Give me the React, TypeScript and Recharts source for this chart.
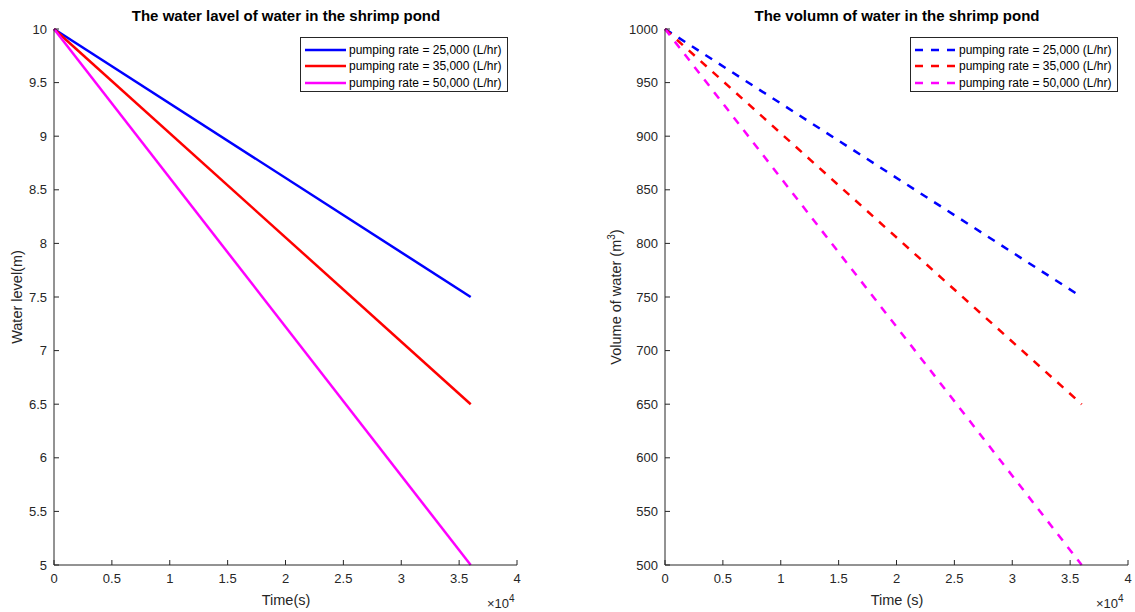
import React from "react";
import { LineChart, Line, XAxis, YAxis } from "recharts";

// time in seconds (10 hours of pumping)
const time = [0, 36000];

// water level (m)
const level25 = [10, 7.5];
const level35 = [10, 6.5];
const level50 = [10, 5];

// volume of water (m^3)
const vol25 = [1000, 750];
const vol35 = [1000, 650];
const vol50 = [1000, 500];

const xTicks = [0, 5000, 10000, 15000, 20000, 25000, 30000, 35000, 40000];
const levelTicks = [5, 5.5, 6, 6.5, 7, 7.5, 8, 8.5, 9, 9.5, 10];
const volTicks = [500, 550, 600, 650, 700, 750, 800, 850, 900, 950, 1000];

const seriesLabels = [
  "pumping rate = 25,000 (L/hr)",
  "pumping rate = 35,000 (L/hr)",
  "pumping rate = 50,000 (L/hr)",
];
const COLORS = ["#0000ff", "#ff0000", "#ff00ff"];

const levelData = time.map((t, i) => ({
  t,
  a: level25[i],
  b: level35[i],
  c: level50[i],
}));
const volData = time.map((t, i) => ({
  t,
  a: vol25[i],
  b: vol35[i],
  c: vol50[i],
}));

const AXIS = "#262626";
const FONT = "'Liberation Sans', Arial, Helvetica, sans-serif";
const tickStyle = { fill: AXIS, fontSize: 13, fontFamily: FONT };

function LegendBox({ left, dashed }: { left: number; dashed?: boolean }) {
  return (
    <div
      style={{
        position: "absolute",
        left,
        top: 37,
        width: 208,
        height: 55,
        border: `1px solid ${AXIS}`,
        background: "white",
        fontFamily: FONT,
        fontSize: 12,
        color: "#000",
        boxSizing: "border-box",
      }}
    >
      {seriesLabels.map((label, i) => (
        <div
          key={label}
          style={{
            position: "absolute",
            left: 3,
            top: 3 + i * 16.7,
            height: 17,
            display: "flex",
            alignItems: "center",
            whiteSpace: "nowrap",
          }}
        >
          <svg width={42} height={10} style={{ marginRight: 3 }}>
            <line
              x1={1}
              y1={5}
              x2={42}
              y2={5}
              stroke={COLORS[i]}
              strokeWidth={2.5}
              strokeDasharray={dashed ? "8 8" : undefined}
            />
          </svg>
          {label}
        </div>
      ))}
    </div>
  );
}

export default function App() {
  const xFmt = (v: number) => `${v / 10000}`;
  return (
    <div
      style={{
        position: "absolute",
        left: 0,
        top: 0,
        width: 1135,
        height: 612,
        background: "white",
        overflow: "hidden",
      }}
    >
      <div style={{ position: "absolute", left: 0, top: 0 }}>
        <LineChart
          width={560}
          height={612}
          data={levelData}
          margin={{ top: 29, right: 43, bottom: 0, left: 0 }}
        >
          <XAxis
            dataKey="t"
            type="number"
            domain={[0, 40000]}
            ticks={xTicks}
            interval={0}
            tickFormatter={xFmt}
            height={47}
            stroke={AXIS}
            tickSize={-5}
            tickMargin={14}
            tick={tickStyle}
          />
          <YAxis
            type="number"
            domain={[5, 10]}
            ticks={levelTicks}
            interval={0}
            width={54}
            stroke={AXIS}
            tickSize={-5}
            tickMargin={12}
            tick={tickStyle}
          />
          {["a", "b", "c"].map((k, i) => (
            <Line
              key={k}
              dataKey={k}
              stroke={COLORS[i]}
              strokeWidth={2.5}
              dot={false}
              isAnimationActive={false}
            />
          ))}
        </LineChart>
      </div>

      <div style={{ position: "absolute", left: 580, top: 0 }}>
        <LineChart
          width={555}
          height={612}
          data={volData}
          margin={{ top: 29, right: 7, bottom: 0, left: 0 }}
        >
          <XAxis
            dataKey="t"
            type="number"
            domain={[0, 40000]}
            ticks={xTicks}
            interval={0}
            tickFormatter={xFmt}
            height={47}
            stroke={AXIS}
            tickSize={-5}
            tickMargin={14}
            tick={tickStyle}
          />
          <YAxis
            type="number"
            domain={[500, 1000]}
            ticks={volTicks}
            interval={0}
            width={85}
            stroke={AXIS}
            tickSize={-5}
            tickMargin={12}
            tick={tickStyle}
          />
          {["a", "b", "c"].map((k, i) => (
            <Line
              key={k}
              dataKey={k}
              stroke={COLORS[i]}
              strokeWidth={2.5}
              strokeDasharray="8 8"
              dot={false}
              isAnimationActive={false}
            />
          ))}
        </LineChart>
      </div>

      <svg
        width={1135}
        height={612}
        style={{ position: "absolute", left: 0, top: 0, pointerEvents: "none" }}
        fontFamily={FONT}
      >
        <text x={286} y={21} textAnchor="middle" fontSize={15} fontWeight="bold" fill="#000">
          The water lavel of water in the shrimp pond
        </text>
        <text x={897} y={21} textAnchor="middle" fontSize={15} fontWeight="bold" fill="#000">
          The volumn of water in the shrimp pond
        </text>
        <text x={286} y={605} textAnchor="middle" fontSize={14.5} fill={AXIS}>
          Time(s)
        </text>
        <text x={897} y={605} textAnchor="middle" fontSize={14.5} fill={AXIS}>
          Time (s)
        </text>
        <text x={487} y={608} fontSize={13} fill={AXIS}>
          ×10<tspan dy={-6} fontSize={10}>4</tspan>
        </text>
        <text x={1096} y={608} fontSize={13} fill={AXIS}>
          ×10<tspan dy={-6} fontSize={10}>4</tspan>
        </text>
        <text
          transform="translate(22,297) rotate(-90)"
          textAnchor="middle"
          fontSize={14.5}
          fill={AXIS}
        >
          Water level(m)
        </text>
        <text
          transform="translate(621,297) rotate(-90)"
          textAnchor="middle"
          fontSize={14.5}
          fill={AXIS}
        >
          Volume of water (m
          <tspan dy={-6} fontSize={10}>3</tspan>
          <tspan dy={6}>)</tspan>
        </text>
      </svg>

      <LegendBox left={300} />
      <LegendBox left={910} dashed />
    </div>
  );
}
